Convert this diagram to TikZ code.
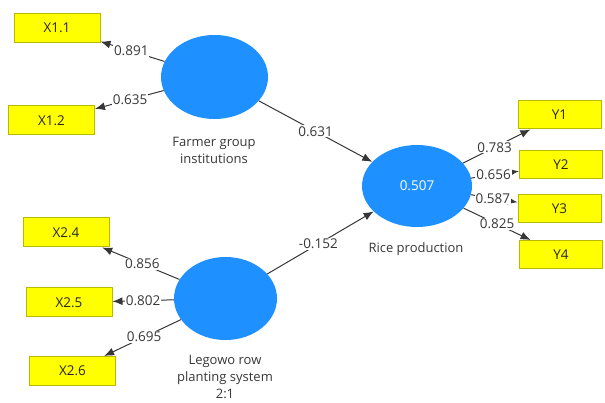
\documentclass[tikz,border=0pt]{standalone}
\usepackage{fontspec}
\setmainfont{Open Sans}
\usetikzlibrary{arrows.meta,shapes.geometric}
\definecolor{lv}{RGB}{30,144,255}
\definecolor{mvfill}{RGB}{255,255,0}
\definecolor{mvdraw}{RGB}{185,185,0}
\definecolor{ink}{RGB}{55,55,55}
\tikzset{
  lvbox/.style={ellipse, fill=lv, draw=none, inner sep=0pt},
  mvbox/.style={rectangle, fill=mvfill, draw=mvdraw, line width=1pt, minimum width=86pt, minimum height=29pt, inner sep=0pt, font=\fontsize{13.5}{15}\selectfont, text=black!85},
  mvybox/.style={mvbox, minimum width=83pt, minimum height=28pt},
  captext/.style={align=center, font=\fontsize{13}{17}\selectfont, text=ink},
  conn/.style={draw=ink, line width=1pt, -{Latex[length=10pt,width=8pt]}},
  lbl/.style={fill=white, inner sep=1pt, font=\fontsize{13.5}{15}\selectfont, text=ink}
}
\begin{document}
\begin{tikzpicture}[x=1pt,y=-1pt]
\useasboundingbox (0,0) rectangle (605,403);
% latent variables
\node[lvbox, minimum width=107pt, minimum height=84pt] (farmer) at (214.5,77) {};
\node[lvbox, minimum width=110pt, minimum height=82pt, text=white, font=\fontsize{13.5}{15}\selectfont] (rice) at (417,186) {0.507};
\node[lvbox, minimum width=103pt, minimum height=83pt] (legowo) at (225.5,298.5) {};
% captions
\node[captext] (farmercap) at (214,150) {Farmer group\\institutions};
\node[captext] (ricecap) at (416,249) {Rice production};
\node[captext] (legowocap) at (225,377) {Legowo row\\planting system\\2:1};
% indicators
\node[mvbox] (x11) at (57,28) {X1.1};
\node[mvbox] (x12) at (51.5,120.5) {X1.2};
\node[mvbox] (x24) at (66,232.5) {X2.4};
\node[mvbox] (x25) at (69,302.5) {X2.5};
\node[mvbox] (x26) at (72.5,371) {X2.6};
\node[mvybox] (y1) at (559.5,115) {Y1};
\node[mvybox] (y2) at (561,165) {Y2};
\node[mvybox] (y3) at (559.5,209) {Y3};
\node[mvybox] (y4) at (561,254.5) {Y4};
% connectors
\draw[conn] (farmer) -- node[lbl, pos=0.52] {0.891} (x11);
\draw[conn] (farmer) -- node[lbl, pos=0.49] {0.635} (x12);
\draw[conn] (farmer) -- node[lbl, pos=0.5] {0.631} (rice);
\draw[conn] (legowo) -- node[lbl, pos=0.48] {-0.152} (rice);
\draw[conn] (legowo) -- node[lbl, pos=0.48] {0.856} (x24);
\draw[conn] (legowo) -- node[lbl, pos=0.5] {0.802} (x25);
\draw[conn] (legowo) -- node[lbl, pos=0.48] {0.695} (x26);
\draw[conn] (rice) -- node[lbl, pos=0.47] {0.783} (y1);
\draw[conn] (rice) -- node[lbl, pos=0.47] {0.656} (y2);
\draw[conn] (rice) -- node[lbl, pos=0.47] {0.587} (y3);
\draw[conn] (rice) -- node[lbl, pos=0.5] {0.825} (y4);
\end{tikzpicture}
\end{document}
